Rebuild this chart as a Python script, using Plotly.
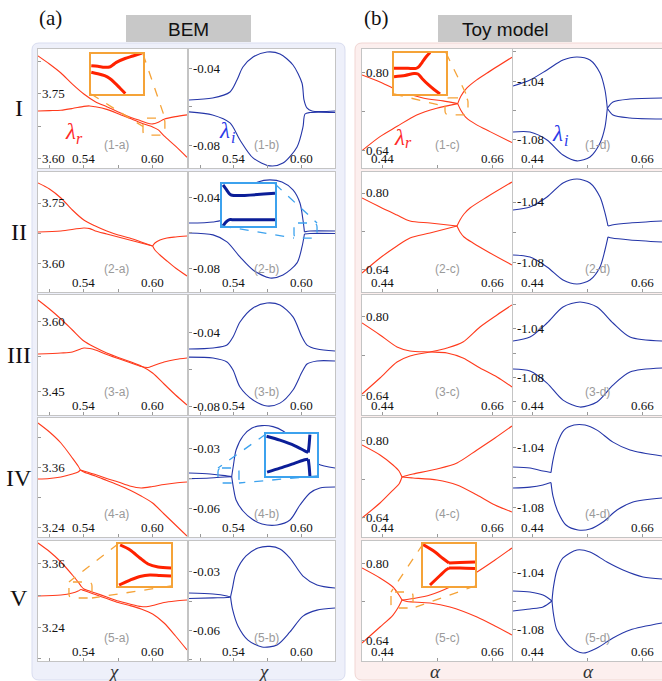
import plotly.graph_objects as go

W, H = 662, 681

# ---------------- tick values ----------------
xt_bem = [0.54, 0.60]
xt_bem_minor = [0.51, 0.57]
xt_toy = [0.44, 0.66]
xt_toy_minor = [0.55]

# ---------------- row I ----------------
x_1a_1 = [0.50, 0.51, 0.52, 0.53, 0.54, 0.55, 0.56, 0.57, 0.58, 0.59, 0.595, 0.60, 0.605, 0.61, 0.62, 0.63]
y_1a_1 = [3.839, 3.820, 3.799, 3.773, 3.750, 3.732, 3.720, 3.708, 3.696, 3.687, 3.682, 3.680, 3.684, 3.691, 3.697, 3.701]
x_1a_2 = [0.50, 0.51, 0.52, 0.53, 0.54, 0.545, 0.55, 0.56, 0.57, 0.58, 0.59, 0.60, 0.605, 0.61, 0.62, 0.63]
y_1a_2 = [3.710, 3.711, 3.712, 3.716, 3.721, 3.722, 3.720, 3.714, 3.704, 3.693, 3.682, 3.673, 3.666, 3.652, 3.628, 3.602]

x_1b_1 = [0.50, 0.521, 0.5365, 0.5427, 0.548, 0.557, 0.5695, 0.581, 0.5926, 0.6006, 0.6024, 0.605, 0.6095, 0.63]
y_1b_1 = [-0.0563, -0.0553, -0.0521, -0.0458, -0.0390, -0.0337, -0.0311, -0.0321, -0.0379, -0.0474, -0.0563, -0.0605, -0.0621, -0.0621]
x_1b_2 = [0.50, 0.521, 0.5365, 0.5454, 0.557, 0.5721, 0.5837, 0.5962, 0.6015, 0.6033, 0.6077, 0.63]
y_1b_2 = [-0.0626, -0.0642, -0.0684, -0.0774, -0.0868, -0.0910, -0.0895, -0.0810, -0.0705, -0.0637, -0.0629, -0.0629]

x_1c_1 = [0.40, 0.436, 0.47, 0.522, 0.562, 0.5914, None, 0.5914, 0.5974, 0.6094, 0.6294, 0.6494, 0.70]
y_1c_1 = [0.7959, 0.7815, 0.7651, 0.7487, 0.7426, 0.737, None, 0.737, 0.7514, 0.7686, 0.7856, 0.7993, 0.8321]
x_1c_2 = [0.40, 0.436, 0.4694, 0.5094, 0.5494, 0.5914, None, 0.5914, 0.5974, 0.6094, 0.6294, 0.656, 0.70]
y_1c_2 = [0.6407, 0.6694, 0.6899, 0.7139, 0.7276, 0.737, None, 0.737, 0.7241, 0.7071, 0.6934, 0.6796, 0.6571]

x_1d_1 = [0.40, 0.4342, 0.4685, 0.5007, 0.5289, 0.555, 0.5752, 0.5852, 0.5899, None, 0.5899, 0.6013, 0.6356, 0.70]
y_1d_1 = [-1.0434, -1.0393, -1.0325, -1.0258, -1.0237, -1.0258, -1.0346, -1.0461, -1.0585, None, -1.0585, -1.0542, -1.0522, -1.0515]
x_1d_2 = [0.40, 0.4342, 0.4685, 0.5007, 0.5289, 0.555, 0.5752, 0.5852, 0.5899, None, 0.5899, 0.6013, 0.6356, 0.70]
y_1d_2 = [-1.0746, -1.0746, -1.08, -1.0902, -1.0942, -1.0915, -1.082, -1.0712, -1.0585, None, -1.0585, -1.0631, -1.0651, -1.0658]

# ---------------- row II ----------------
x_2a_1 = [0.50, 0.51, 0.52, 0.53, 0.54, 0.55, 0.56, 0.57, 0.58, 0.59, 0.60, None, 0.60, 0.602, 0.6064, 0.6125, 0.62, 0.63]
y_2a_1 = [3.80, 3.785, 3.7625, 3.7325, 3.7075, 3.6925, 3.68, 3.67, 3.6625, 3.6525, 3.6425, None, 3.6425, 3.65, 3.6575, 3.6625, 3.665, 3.6675]
x_2a_2 = [0.50, 0.52, 0.54, 0.5453, 0.55, 0.56, 0.57, 0.58, 0.59, 0.60, None, 0.60, 0.602, 0.6064, 0.6125, 0.62, 0.63]
y_2a_2 = [3.6775, 3.68, 3.6875, 3.686, 3.68, 3.6725, 3.665, 3.6575, 3.65, 3.6425, None, 3.6425, 3.6325, 3.62, 3.605, 3.5875, 3.5675]

x_2b_1 = [0.50, 0.5214, 0.532, 0.5392, 0.5499, 0.5614, 0.5721, 0.5828, 0.5926, 0.5988, 0.6015, 0.6028, None, 0.6028, 0.6077, 0.63]
y_2b_1 = [-0.0543, -0.0537, -0.052, -0.044, -0.0354, -0.0309, -0.0297, -0.0309, -0.0354, -0.0429, -0.0526, -0.0594, None, -0.0594, -0.0589, -0.0589]
x_2b_2 = [0.50, 0.5214, 0.5338, 0.5454, 0.557, 0.5721, 0.5837, 0.5962, 0.6006, 0.6028, None, 0.6028, 0.6077, 0.63]
y_2b_2 = [-0.06, -0.0611, -0.0651, -0.0737, -0.0811, -0.0857, -0.084, -0.0771, -0.068, -0.0606, None, -0.0606, -0.0603, -0.0603]

x_2c_1 = [0.40, 0.436, 0.47, 0.496, 0.536, 0.59, None, 0.59, 0.596, 0.604, 0.616, 0.65, 0.70]
y_2c_1 = [0.7895, 0.7705, 0.7537, 0.7411, 0.7368, 0.7305, None, 0.7305, 0.7432, 0.7558, 0.7684, 0.7916, 0.8231]
x_2c_2 = [0.40, 0.436, 0.47, 0.496, 0.536, 0.59, None, 0.59, 0.596, 0.604, 0.622, 0.656, 0.70]
y_2c_2 = [0.6316, 0.6632, 0.6884, 0.7053, 0.7158, 0.7305, None, 0.7305, 0.7179, 0.7074, 0.6947, 0.6737, 0.6484]

x_2d_1 = [0.40, 0.4342, 0.4685, 0.5007, 0.5289, 0.555, 0.5752, 0.5852, 0.5913, None, 0.5913, 0.5993, 0.6356, 0.70]
y_2d_1 = [-1.0453, -1.0433, -1.0367, -1.0273, -1.0247, -1.0273, -1.0367, -1.0473, -1.056, None, -1.056, -1.0553, -1.054, -1.0527]
x_2d_2 = [0.40, 0.4342, 0.4685, 0.5007, 0.5289, 0.555, 0.5752, 0.5852, 0.5913, None, 0.5913, 0.5993, 0.6356, 0.70]
y_2d_2 = [-1.0753, -1.0767, -1.0833, -1.092, -1.0947, -1.092, -1.0833, -1.072, -1.0633, None, -1.0633, -1.064, -1.0653, -1.0667]

# ---------------- row III ----------------
x_3a_1 = [0.50, 0.51, 0.52, 0.53, 0.54, 0.55, 0.56, 0.57, 0.58, 0.59, 0.60, 0.61, 0.62, 0.63]
y_3a_1 = [3.645, 3.6257, 3.6043, 3.5807, 3.5571, 3.5432, 3.5314, 3.5218, 3.5132, 3.5036, 3.4886, 3.465, 3.4414, 3.42]
x_3a_2 = [0.50, 0.52, 0.53, 0.54, 0.5453, 0.55, 0.56, 0.57, 0.58, 0.59, 0.596, 0.60, 0.61, 0.62, 0.63]
y_3a_2 = [3.5293, 3.5314, 3.5336, 3.5421, 3.541, 3.5379, 3.5282, 3.5196, 3.5111, 3.5025, 3.5004, 3.5036, 3.5121, 3.5175, 3.5207]

x_3b = [0.50, 0.5214, 0.5338, 0.5392, 0.5454, 0.557, 0.5695, 0.581, 0.5926, 0.6006, 0.6051, 0.614, 0.63]
y_3b_1 = [-0.0488, -0.0482, -0.0466, -0.0422, -0.034, -0.0263, -0.0236, -0.0247, -0.0312, -0.0422, -0.0466, -0.0488, -0.0499]
y_3b_2 = [-0.0532, -0.0537, -0.0559, -0.0603, -0.0696, -0.0767, -0.08, -0.0784, -0.0712, -0.0614, -0.057, -0.0553, -0.0553]

x_3c = [0.40, 0.436, 0.47, 0.496, 0.536, 0.57, 0.602, 0.636, 0.67, 0.70]
y_3c_1 = [0.7877, 0.7631, 0.7385, 0.7303, 0.7282, 0.7262, 0.7159, 0.6954, 0.677, 0.6565]
y_3c_2 = [0.6421, 0.6749, 0.7077, 0.72, 0.7282, 0.7364, 0.7487, 0.7795, 0.8041, 0.8246]

x_3d = [0.40, 0.4342, 0.4685, 0.5007, 0.5349, 0.5691, 0.6013, 0.6356, 0.70]
y_3d_1 = [-1.05, -1.0467, -1.035, -1.0217, -1.0175, -1.0217, -1.035, -1.0467, -1.05]
y_3d_2 = [-1.0733, -1.075, -1.085, -1.0992, -1.105, -1.1008, -1.0867, -1.0758, -1.0725]

# ---------------- row IV ----------------
x_4a = [0.50, 0.51, 0.52, 0.53, 0.535, 0.537, None, 0.537, 0.54, 0.55, 0.56, 0.57, 0.58, 0.59, 0.60, 0.61, 0.62, 0.63]
y_4a_1 = [3.448, 3.43, 3.408, 3.378, 3.362, 3.354, None, 3.354, 3.352, 3.345, 3.337, 3.33, 3.322, 3.318, 3.321, 3.325, 3.328, 3.33]
y_4a_2 = [3.336, 3.337, 3.34, 3.346, 3.35, 3.354, None, 3.354, 3.35, 3.342, 3.333, 3.324, 3.314, 3.302, 3.288, 3.266, 3.244, 3.222]

x_4b_1 = [0.50, 0.5187, 0.532, 0.538, None, 0.538, 0.5396, 0.5419, 0.5481, 0.5561, 0.565, 0.5748, 0.5837, 0.5944, 0.6051, 0.6149, 0.63]
y_4b_1 = [-0.0425, -0.043, -0.0438, -0.0443, None, -0.0443, -0.0385, -0.031, -0.024, -0.02, -0.0188, -0.0193, -0.0215, -0.027, -0.0335, -0.038, -0.04]
x_4b_2 = [0.50, 0.5187, 0.532, 0.538, None, 0.538, 0.5396, 0.5419, 0.5481, 0.5561, 0.565, 0.5784, 0.5899, 0.5988, 0.6077, 0.6166, 0.63]
y_4b_2 = [-0.0453, -0.045, -0.0445, -0.0443, None, -0.0443, -0.05, -0.056, -0.0615, -0.0655, -0.068, -0.0685, -0.066, -0.0585, -0.0525, -0.05, -0.0495]

x_4c = [0.40, 0.436, 0.462, 0.474, 0.48, None, 0.48, 0.49, 0.502, 0.55, 0.59, 0.63, 0.666, 0.70]
y_4c_1 = [0.7916, 0.7705, 0.7495, 0.7368, 0.7242, None, 0.7242, 0.7274, 0.7305, 0.7411, 0.7537, 0.7811, 0.8063, 0.8316]
y_4c_2 = [0.6379, 0.6695, 0.6968, 0.7095, 0.7242, None, 0.7242, 0.7232, 0.7221, 0.7179, 0.7074, 0.6863, 0.6653, 0.6505]

x_4d_1 = [0.40, 0.4342, 0.4604, 0.4765, None, 0.4765, 0.4805, 0.4886, 0.5027, 0.5228, 0.545, 0.5691, 0.6013, 0.6356, 0.70]
y_4d_1 = [-1.0533, -1.054, -1.056, -1.057, None, -1.057, -1.0487, -1.038, -1.0287, -1.0253, -1.0253, -1.0287, -1.0367, -1.042, -1.046]
x_4d_2 = [0.40, 0.4342, 0.4604, 0.4765, None, 0.4765, 0.4805, 0.4906, 0.5067, 0.5309, 0.555, 0.5812, 0.6094, 0.6416, 0.70]
y_4d_2 = [-1.0673, -1.0667, -1.0653, -1.0637, None, -1.0637, -1.0727, -1.0833, -1.092, -1.0953, -1.0947, -1.09, -1.082, -1.0767, -1.074]

# ---------------- row V ----------------
x_5a_1 = [0.50, 0.51, 0.52, 0.53, 0.535, 0.5375, 0.54, 0.545, 0.55, 0.56, 0.57, 0.58, 0.59, 0.596, 0.60, 0.61, 0.62, 0.63]
y_5a_1 = [3.3998, 3.3836, 3.3637, 3.339, 3.3257, 3.318, 3.3124, 3.3086, 3.3048, 3.2972, 3.2896, 3.2839, 3.2791, 3.2791, 3.281, 3.2867, 3.2896, 3.2915]
x_5a_2 = [0.50, 0.52, 0.53, 0.535, 0.5375, 0.54, 0.545, 0.55, 0.56, 0.57, 0.58, 0.59, 0.60, 0.61, 0.62, 0.63]
y_5a_2 = [3.299, 3.301, 3.3048, 3.3086, 3.3114, 3.3095, 3.3057, 3.3019, 3.2943, 3.2867, 3.281, 3.2744, 3.2649, 3.2478, 3.2231, 3.1965]

x_5b_1 = [0.50, 0.5214, 0.5338, 0.537, None, 0.537, 0.5387, 0.5419, 0.5508, 0.5614, 0.5721, 0.581, 0.5899, 0.6015, 0.614, 0.63]
y_5b_1 = [-0.0409, -0.0414, -0.0424, -0.0429, None, -0.0429, -0.0383, -0.03, -0.0217, -0.0176, -0.0168, -0.0181, -0.0228, -0.0321, -0.0367, -0.0383]
x_5b_2 = [0.50, 0.5214, 0.5338, 0.537, None, 0.537, 0.5387, 0.5436, 0.5525, 0.565, 0.5784, 0.5899, 0.6015, 0.614, 0.63]
y_5b_2 = [-0.0437, -0.0434, -0.0432, -0.0429, None, -0.0429, -0.0491, -0.0579, -0.0652, -0.0688, -0.0677, -0.061, -0.0528, -0.0497, -0.0486]

x_5c = [0.40, 0.436, 0.462, 0.474, 0.48, None, 0.48, 0.49, 0.502, 0.536, 0.576, 0.63, 0.666, 0.70]
y_5c_1 = [0.7896, 0.7688, 0.7501, 0.7335, 0.7231, None, 0.7231, 0.7242, 0.7262, 0.7335, 0.7501, 0.7813, 0.8062, 0.8312]
y_5c_2 = [0.6338, 0.667, 0.6919, 0.7106, 0.7231, None, 0.7231, 0.72, 0.719, 0.7169, 0.7086, 0.6878, 0.6691, 0.6504]

x_5d_1 = [0.40, 0.4342, 0.4604, 0.4785, None, 0.4785, 0.4815, 0.4886, 0.5007, 0.5289, 0.555, 0.5892, 0.6215, 0.6617, 0.70]
y_5d_1 = [-1.0531, -1.0538, -1.0559, -1.06, None, -1.06, -1.0503, -1.0386, -1.0303, -1.0248, -1.0262, -1.0331, -1.0386, -1.0434, -1.0448]
x_5d_2 = [0.40, 0.4342, 0.4604, 0.4785, None, 0.4785, 0.4815, 0.4886, 0.5148, 0.5409, 0.5691, 0.6013, 0.6356, 0.70]
y_5d_2 = [-1.0669, -1.0655, -1.0641, -1.06, None, -1.06, -1.069, -1.08, -1.0917, -1.0959, -1.0924, -1.0855, -1.08, -1.0752]

# ---------------- insets (zoomed data) ----------------
xi_1a_1 = [0.5917, 0.5941, 0.5966, 0.5984, 0.5996, 0.6009, 0.6041, 0.607, 0.6103]
yi_1a_1 = [3.6821, 3.6815, 3.6805, 3.6808, 3.6828, 3.6854, 3.6892, 3.6917, 3.6947]
xi_1a_2 = [0.5917, 0.5941, 0.5966, 0.5985, 0.6004, 0.6022, 0.6042]
yi_1a_2 = [3.6755, 3.674, 3.6721, 3.6693, 3.6648, 3.6599, 3.6544]

xi_1c_1 = [0.566, 0.5784, 0.5855, 0.5881, 0.5908, 0.5943, 0.5979]
yi_1c_1 = [0.7357, 0.7357, 0.7357, 0.7372, 0.7406, 0.7453, 0.7491]
xi_1c_2 = [0.566, 0.5757, 0.5837, 0.5872, 0.5908, 0.5961, 0.6014, 0.6067]
yi_1c_2 = [0.7286, 0.7296, 0.7313, 0.7309, 0.7271, 0.722, 0.7177, 0.7139]

xi_2b_1 = [0.5939, 0.595, 0.5964, 0.5974, 0.614]
yi_2b_1 = [-0.0545, -0.0553, -0.0563, -0.0566, -0.0562]
xi_2b_2 = [0.5939, 0.595, 0.5964, 0.5974, 0.614]
yi_2b_2 = [-0.0629, -0.0621, -0.0616, -0.0616, -0.0616]

xi_4b_1 = [0.526, 0.5309, 0.5364, 0.54, 0.5413, None, 0.5413, 0.5416, 0.5419]
yi_4b_1 = [-0.0404, -0.0411, -0.0421, -0.043, -0.0433, None, -0.0433, -0.042, -0.0401]
xi_4b_2 = [0.5262, 0.5309, 0.5364, 0.54, 0.5413, None, 0.5413, 0.5416, 0.5419]
yi_4b_2 = [-0.0468, -0.0461, -0.0452, -0.0446, -0.0445, None, -0.0445, -0.0457, -0.0475]

xi_5a_1 = [0.5278, 0.5316, 0.5353, 0.5384, 0.5422, 0.5471]
yi_5a_1 = [3.325, 3.3214, 3.3156, 3.3112, 3.309, 3.3083]
xi_5a_2 = [0.5274, 0.5316, 0.5353, 0.5391, 0.5429, 0.5471]
yi_5a_2 = [3.296, 3.2996, 3.3022, 3.3033, 3.3029, 3.3025]

xi_5c_1 = [0.458, 0.4682, 0.4749, 0.48, None, 0.48, 0.4893, 0.502]
yi_5c_1 = [0.7393, 0.7334, 0.7282, 0.7247, None, 0.7247, 0.7251, 0.7255]
xi_5c_2 = [0.4639, 0.4724, 0.4775, 0.48, None, 0.48, 0.4893, 0.502]
yi_5c_2 = [0.7073, 0.7148, 0.7192, 0.7207, None, 0.7207, 0.7207, 0.7203]

# ---------------- layout geometry (pixels) ----------------
COLS = {"a": (38, 187), "b": (189, 335), "c": (362, 512), "d": (513, 662)}
ROWS = [(49, 168), (172, 292), (295, 415), (418, 537), (541, 661)]
XR = {"a": [0.50, 0.63], "b": [0.50, 0.63], "c": [0.40, 0.70], "d": [0.40, 0.70]}

RED = "#FF3A1C"
BLUE = "#2536A8"
ORANGE = "#F5A338"
LBLUE = "#3CA2EE"

panels = [
    dict(key="1-a", row=0, col="a", curves=[(x_1a_1, y_1a_1), (x_1a_2, y_1a_2)], yr=[3.577, 3.855],
         yt=[3.60, 3.75], ym=[3.675, 3.825]),
    dict(key="1-b", row=0, col="b", curves=[(x_1b_1, y_1b_1), (x_1b_2, y_1b_2)], yr=[-0.0921, -0.0295],
         yt=[-0.08, -0.04], ym=[-0.06]),
    dict(key="1-c", row=0, col="c", curves=[(x_1c_1, y_1c_1), (x_1c_2, y_1c_2)], yr=[0.605, 0.849],
         yt=[0.64, 0.80], ym=[0.72]),
    dict(key="1-d", row=0, col="d", curves=[(x_1d_1, y_1d_1), (x_1d_2, y_1d_2)], yr=[-1.099, -1.0183],
         yt=[-1.08, -1.04], ym=[-1.06, -1.02]),
    dict(key="2-a", row=1, col="a", curves=[(x_2a_1, y_2a_1), (x_2a_2, y_2a_2)], yr=[3.5275, 3.8275],
         yt=[3.60, 3.75], ym=[3.675]),
    dict(key="2-b", row=1, col="b", curves=[(x_2b_1, y_2b_1), (x_2b_2, y_2b_2)], yr=[-0.0937, -0.0252],
         yt=[-0.08, -0.04], ym=[-0.06]),
    dict(key="2-c", row=1, col="c", curves=[(x_2c_1, y_2c_1), (x_2c_2, y_2c_2)], yr=[0.5916, 0.8442],
         yt=[0.64, 0.80], ym=[0.72]),
    dict(key="2-d", row=1, col="d", curves=[(x_2d_1, y_2d_1), (x_2d_2, y_2d_2)], yr=[-1.1, -1.02],
         yt=[-1.08, -1.04], ym=[-1.06]),
    dict(key="3-a", row=2, col="a", curves=[(x_3a_1, y_3a_1), (x_3a_2, y_3a_2)], yr=[3.3986, 3.6557],
         yt=[3.45, 3.60], ym=[3.525]),
    dict(key="3-b", row=2, col="b", curves=[(x_3b, y_3b_1), (x_3b, y_3b_2)], yr=[-0.0849, -0.0192],
         yt=[-0.08, -0.04], ym=[-0.06]),
    dict(key="3-c", row=2, col="c", curves=[(x_3c, y_3c_1), (x_3c, y_3c_2)], yr=[0.599, 0.845],
         yt=[0.64, 0.80], ym=[0.72]),
    dict(key="3-d", row=2, col="d", curves=[(x_3d, y_3d_1), (x_3d, y_3d_2)], yr=[-1.1116, -1.0117],
         yt=[-1.08, -1.04], ym=[-1.10, -1.06, -1.02]),
    dict(key="4-a", row=3, col="a", curves=[(x_4a, y_4a_1), (x_4a, y_4a_2)], yr=[3.22, 3.458],
         yt=[3.24, 3.36], ym=[3.30, 3.42]),
    dict(key="4-b", row=3, col="b", curves=[(x_4b_1, y_4b_1), (x_4b_2, y_4b_2)], yr=[-0.0745, -0.015],
         yt=[-0.06, -0.03], ym=[-0.045]),
    dict(key="4-c", row=3, col="c", curves=[(x_4c, y_4c_1), (x_4c, y_4c_2)], yr=[0.5979, 0.8484],
         yt=[0.64, 0.80], ym=[0.72]),
    dict(key="4-d", row=3, col="d", curves=[(x_4d_1, y_4d_1), (x_4d_2, y_4d_2)], yr=[-1.1, -1.0206],
         yt=[-1.08, -1.04], ym=[-1.06]),
    dict(key="5-a", row=4, col="a", curves=[(x_5a_1, y_5a_1), (x_5a_2, y_5a_2)], yr=[3.1756, 3.4036],
         yt=[3.24, 3.36], ym=[3.18, 3.30]),
    dict(key="5-b", row=4, col="b", curves=[(x_5b_1, y_5b_1), (x_5b_2, y_5b_2)], yr=[-0.076, -0.014],
         yt=[-0.06, -0.03], ym=[-0.075, -0.045]),
    dict(key="5-c", row=4, col="c", curves=[(x_5c, y_5c_1), (x_5c, y_5c_2)], yr=[0.5964, 0.8457],
         yt=[0.64, 0.80], ym=[0.72]),
    dict(key="5-d", row=4, col="d", curves=[(x_5d_1, y_5d_1), (x_5d_2, y_5d_2)], yr=[-1.1014, -1.0186],
         yt=[-1.08, -1.04], ym=[-1.06]),
]

insets = [
    dict(host="1-a", box=(91, 54, 143, 94), curves=[(xi_1a_1, yi_1a_1), (xi_1a_2, yi_1a_2)],
         xr=[0.5916, 0.6107], yr=[3.6539, 3.6937], kind="red", conn=[("bl", "lm"), ("tr", "tr")]),
    dict(host="1-c", box=(394, 53, 446, 94), curves=[(xi_1c_1, yi_1c_1), (xi_1c_2, yi_1c_2)],
         xr=[0.566, 0.612], yr=[0.7139, 0.7487], kind="red", conn=[("bl", "lm"), ("tr", "tr")]),
    dict(host="2-b", box=(222, 184, 275, 226), curves=[(xi_2b_1, yi_2b_1), (xi_2b_2, yi_2b_2)],
         xr=[0.5935, 0.614], yr=[-0.0629, -0.0543], kind="blue", conn=[("tr", "tr"), ("bl", "bl")]),
    dict(host="4-b", box=(266, 434, 317, 476), curves=[(xi_4b_1, yi_4b_1), (xi_4b_2, yi_4b_2)],
         xr=[0.5258, 0.5445], yr=[-0.0475, -0.04], kind="blue", conn=[("tl", "tl"), ("br", "br")]),
    dict(host="5-a", box=(118, 544, 171, 586), curves=[(xi_5a_1, yi_5a_1), (xi_5a_2, yi_5a_2)],
         xr=[0.527, 0.5471], yr=[3.2953, 3.3257], kind="red", conn=[("tl", "tl"), ("br", "br")]),
    dict(host="5-c", box=(423, 544, 475, 586), curves=[(xi_5c_1, yi_5c_1), (xi_5c_2, yi_5c_2)],
         xr=[0.458, 0.502], yr=[0.7065, 0.7397], kind="red", conn=[("tl", "tl"), ("br", "br")]),
]


def fx(p):
    return p / W


def fy(p):
    return 1 - p / H


def rrect_path(x0, y0, x1, y1, r):
    rx, ry = r / W, r / H
    X0, X1, Y0, Y1 = fx(x0), fx(x1), fy(y0), fy(y1)  # Y0 top (larger)
    return (f"M{X0+rx},{Y0} L{X1-rx},{Y0} Q{X1},{Y0} {X1},{Y0-ry} "
            f"L{X1},{Y1+ry} Q{X1},{Y1} {X1-rx},{Y1} L{X0+rx},{Y1} "
            f"Q{X0},{Y1} {X0},{Y1+ry} L{X0},{Y0-ry} Q{X0},{Y0} {X0+rx},{Y0} Z")


fig = go.Figure()
layout = {}
shapes = []
annotations = []

# background boxes
shapes.append(dict(type="path", xref="paper", yref="paper", layer="below",
                   path=rrect_path(32, 43, 345, 680, 7), fillcolor="#EEF0FA",
                   line=dict(color="#D9DDF0", width=1)))
shapes.append(dict(type="path", xref="paper", yref="paper", layer="below",
                   path=rrect_path(355, 43, 672, 680, 7), fillcolor="#FCEFEE",
                   line=dict(color="#F1D6D3", width=1)))
# header boxes
for (x0, x1, txt) in [(126, 251, "BEM"), (438, 572, "Toy model")]:
    shapes.append(dict(type="rect", xref="paper", yref="paper", layer="below",
                       x0=fx(x0), x1=fx(x1), y0=fy(42), y1=fy(15),
                       fillcolor="#C8C8C8", line=dict(width=0)))
    annotations.append(dict(x=fx((x0 + x1) / 2), y=fy(29), xref="paper", yref="paper", text=txt,
                            showarrow=False, xanchor="center", yanchor="middle",
                            font=dict(family="Liberation Sans", size=19, color="#111")))

TICKFONT = dict(family="Liberation Serif", size=13, color="#111")
panel_geom = {}
idx = 0
for p in panels:
    idx += 1
    c0, c1 = COLS[p["col"]]
    r0, r1 = ROWS[p["row"]]
    xr = XR[p["col"]]
    panel_geom[p["key"]] = (c0, c1, r0, r1, xr, p["yr"])
    # white panel background
    shapes.append(dict(type="rect", xref="paper", yref="paper", layer="below",
                       x0=fx(c0), x1=fx(c1), y0=fy(r1), y1=fy(r0),
                       fillcolor="white", line=dict(width=0)))
    sx = "" if idx == 1 else str(idx)
    toy = p["col"] in ("c", "d")
    xt = xt_toy if toy else xt_bem
    axis_common = dict(ticks="inside", ticklen=3, tickcolor="#999", tickwidth=1,
                       showticklabels=False, showgrid=False, zeroline=False,
                       showline=True, mirror=True, linecolor="#C4C4C4", linewidth=1)
    layout["xaxis" + sx] = dict(
        domain=[fx(c0), fx(c1)], range=xr, anchor="y" + sx, tickvals=xt,
        minor=dict(tickvals=xt_toy_minor if toy else xt_bem_minor, ticks="inside", ticklen=3,
                   tickcolor="#999", showgrid=False),
        **axis_common)
    layout["yaxis" + sx] = dict(
        domain=[fy(r1), fy(r0)], range=p["yr"], anchor="x" + sx, tickvals=p["yt"],
        minor=dict(tickvals=p["ym"], ticks="inside", ticklen=3, tickcolor="#999", showgrid=False),
        **axis_common)
    # tick labels drawn inside the frame, placed through the axes' scales
    for v in xt:
        annotations.append(dict(x=v, y=p["yr"][0], xref="x" + sx, yref="y" + sx, text=f"{v:.2f}",
                                showarrow=False, xanchor="center", yanchor="bottom", yshift=0,
                                font=TICKFONT))
    for v in p["yt"]:
        annotations.append(dict(x=xr[0], y=v, xref="x" + sx, yref="y" + sx, text=f"{v:.2f}",
                                showarrow=False, xanchor="left", yanchor="middle", xshift=2,
                                font=TICKFONT))
    color = RED if p["col"] in ("a", "c") else BLUE
    for (xs, ys) in p["curves"]:
        fig.add_trace(go.Scatter(x=xs, y=ys, mode="lines", xaxis="x" + sx, yaxis="y" + sx,
                                 line=dict(color=color, width=1.1, shape="spline", smoothing=0.8),
                                 connectgaps=False, hoverinfo="skip", showlegend=False))
    # panel label
    annotations.append(dict(x=fx((c0 + c1) / 2 + (4 if p["col"] in ("a", "b") else 10)), y=fy(r1 - 23),
                            xref="paper", yref="paper", text="(" + p["key"] + ")", showarrow=False,
                            xanchor="center", yanchor="middle",
                            font=dict(family="Liberation Sans", size=12, color="#9A9A9A")))


def data_px(key, xv, yv):
    c0, c1, r0, r1, xr, yr = panel_geom[key]
    px = c0 + (xv - xr[0]) / (xr[1] - xr[0]) * (c1 - c0)
    py = r1 - (yv - yr[0]) / (yr[1] - yr[0]) * (r1 - r0)
    return px, py


def corner(x0, y0, x1, y1, c):
    return {"tl": (x0, y0), "tr": (x1, y0), "bl": (x0, y1), "br": (x1, y1),
            "lm": (x0, (y0 + y1) / 2)}[c]


for ins in insets:
    idx += 1
    sx = str(idx)
    bx0, by0, bx1, by1 = ins["box"]
    edge = ORANGE if ins["kind"] == "red" else LBLUE
    lc = "#FF2200" if ins["kind"] == "red" else "#0B1E98"
    common = dict(showticklabels=False, ticks="", showgrid=False, zeroline=False,
                  showline=True, mirror=True, linecolor=edge, linewidth=2)
    layout["xaxis" + sx] = dict(domain=[fx(bx0), fx(bx1)], range=ins["xr"], anchor="y" + sx, **common)
    layout["yaxis" + sx] = dict(domain=[fy(by1), fy(by0)], range=ins["yr"], anchor="x" + sx, **common)
    for (xs, ys) in ins["curves"]:
        fig.add_trace(go.Scatter(x=xs, y=ys, mode="lines", xaxis="x" + sx, yaxis="y" + sx,
                                 line=dict(color=lc, width=3, shape="spline", smoothing=0.8),
                                 connectgaps=False, hoverinfo="skip", showlegend=False))
    # dashed zoom region in host panel
    rx0, ry1 = data_px(ins["host"], ins["xr"][0], ins["yr"][0])
    rx1, ry0 = data_px(ins["host"], ins["xr"][1], ins["yr"][1])
    shapes.append(dict(type="path", xref="paper", yref="paper", layer="above",
                       path=rrect_path(rx0, ry0, rx1, ry1, 4),
                       line=dict(color=edge, width=1.3, dash="dash")))
    for (ci, cr) in ins["conn"]:
        ax, ay = corner(bx0, by0, bx1, by1, ci)
        zx, zy = corner(rx0, ry0, rx1, ry1, cr)
        shapes.append(dict(type="line", xref="paper", yref="paper", layer="above",
                           x0=fx(ax), y0=fy(ay), x1=fx(zx), y1=fy(zy),
                           line=dict(color=edge, width=1.3, dash="dash")))

# titles and labels
for (x, y, t) in [(50, 18, "(a)"), (376, 18, "(b)")]:
    annotations.append(dict(x=fx(x), y=fy(y), xref="paper", yref="paper", text=t, showarrow=False,
                            xanchor="center", yanchor="middle",
                            font=dict(family="Liberation Serif", size=21, color="#111")))
for (y, t) in zip([108, 232, 355, 478, 598], ["I", "II", "III", "IV", "V"]):
    annotations.append(dict(x=fx(19), y=fy(y), xref="paper", yref="paper", text=t, showarrow=False,
                            xanchor="center", yanchor="middle",
                            font=dict(family="Liberation Serif", size=24, color="#111")))
for (x, t) in [(113, "χ"), (263, "χ"), (435, "α"), (588, "α")]:
    annotations.append(dict(x=fx(x), y=fy(671), xref="paper", yref="paper", text="<i>" + t + "</i>",
                            showarrow=False, xanchor="center", yanchor="middle",
                            font=dict(family="Liberation Serif", size=19, color="#333")))
# lambda labels: main symbol + subscript as separate texts
for (x, y, sxp, syp, sub, c) in [(70, 132, 79, 138, "r", "#FF2A2A"),
                                 (399, 137, 408, 143, "r", "#FF2A2A"),
                                 (224, 131, 233, 137, "i", "#2A3AE8"),
                                 (557, 134, 566, 140, "i", "#2A3AE8")]:
    annotations.append(dict(x=fx(x), y=fy(y), xref="paper", yref="paper", text="<i>λ</i>",
                            showarrow=False, xanchor="center", yanchor="middle",
                            font=dict(family="Liberation Serif", size=23, color=c)))
    annotations.append(dict(x=fx(sxp), y=fy(syp), xref="paper", yref="paper", text="<i>" + sub + "</i>",
                            showarrow=False, xanchor="center", yanchor="middle",
                            font=dict(family="Liberation Serif", size=16, color=c)))

fig.update_layout(width=W, height=H, margin=dict(l=0, r=0, t=0, b=0),
                  paper_bgcolor="white", plot_bgcolor="white",
                  shapes=shapes, annotations=annotations, showlegend=False, **layout)
fig.write_html("out.html", config={"displayModeBar": False},
               post_script="document.body.style.margin='0';document.body.style.overflow='hidden';")
